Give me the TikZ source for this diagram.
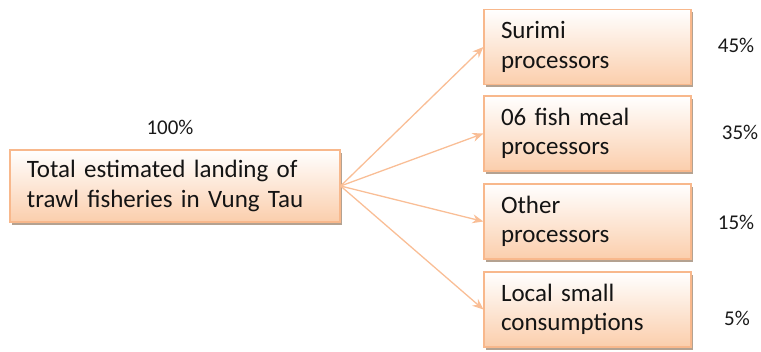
\documentclass[tikz,border=0pt]{standalone}
\usepackage{fontspec}
\setmainfont{Carlito}
\usetikzlibrary{arrows.meta,shadows}
\definecolor{peachline}{RGB}{248,184,140}
\definecolor{peachfill}{RGB}{251,206,172}
\definecolor{arrowc}{RGB}{249,190,150}
\begin{document}
\begin{tikzpicture}[x=1pt,y=-1pt,
  box/.style={draw=peachline,line width=1.2pt,top color=white,bottom color=peachfill,
    drop shadow={shadow xshift=2pt,shadow yshift=-3pt,fill=black!45!brown,opacity=0.5},
    align=left,inner xsep=17pt,font=\fontsize{25}{29.5}\selectfont,text=black!92},
  rbox/.style={box,minimum width=207pt,minimum height=75pt,text width=173pt},
  pct/.style={font=\fontsize{21}{24}\selectfont,text=black!90},
  conn/.style={draw=arrowc,line width=1.3pt,-{Stealth[length=11pt,width=9pt]}}]
\useasboundingbox (0,0) rectangle (761,352);
\node[box,minimum width=330pt,minimum height=72pt,text width=296pt] (main) at (175,186)
  {Total estimated landing of\\trawl fisheries in Vung Tau};
\node[rbox] (b1) at (587.5,47) {Surimi\\processors};
\node[rbox] (b2) at (587.5,133.5) {06 fish meal\\processors};
\node[rbox] (b3) at (587.5,221.5) {Other\\processors};
\node[rbox] (b4) at (587.5,309.5) {Local small\\consumptions};
\node[pct] (p0) at (170,127) {100\%};
\node[pct] (p1) at (736,45) {45\%};
\node[pct] (p2) at (740,132) {35\%};
\node[pct] (p3) at (736,222) {15\%};
\node[pct] (p4) at (737,318) {5\%};
\foreach \b in {b1,b2,b3,b4} \draw[conn] (main.east) -- (\b.west);
\end{tikzpicture}
\end{document}
